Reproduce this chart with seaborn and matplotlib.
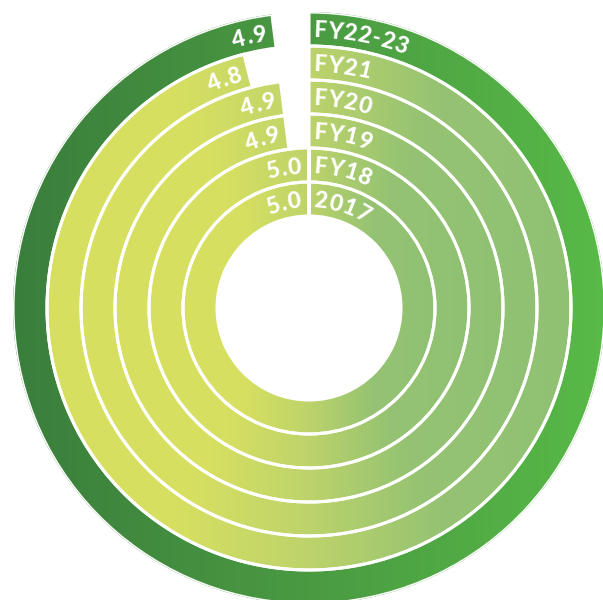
import numpy as np
import pandas as pd
import seaborn as sns
import matplotlib.pyplot as plt
from matplotlib.path import Path

# Data (inner ring first)
years = ["2017", "FY18", "FY19", "FY20", "FY21", "FY22-23"]
scores = [5.0, 5.0, 4.9, 4.9, 4.8, 4.9]
max_score = 5.0

df = pd.DataFrame({"year": years, "score": scores})

sns.set_theme(style="white")
plt.rcParams["font.family"] = ["Lato", "DejaVu Sans"]

# Colour ramps (left -> right)
inner_cmap = sns.blend_palette(["#d8e060", "#d6df61", "#bdd36b", "#95c372", "#90c173"], as_cmap=True)
outer_cmap = sns.blend_palette(["#3a7e3c", "#4a9a42", "#58ba47"], as_cmap=True)

W, H = 603, 600
cx, cy = 309, 292      # centre of the rings, pixels from bottom-left
R = 296                # outer radius in px
hole = 92              # radius of the empty centre
ring = (R - hole) / len(df)

fig = plt.figure(figsize=(W / 100, H / 100), dpi=100)

# background axes in pixel units, holds the gradient images
bg = fig.add_axes([0, 0, 1, 1], zorder=1)

# polar axes in pixel units for radius
ax = fig.add_axes([(cx - R) / W, (cy - R) / H, 2 * R / W, 2 * R / H],
                  projection="polar", zorder=2)
ax.set_facecolor("none")
ax.set_theta_zero_location("N")
ax.set_theta_direction(-1)
ax.set_ylim(0, R)
ax.axis("off")

theta = (df["score"] / max_score * 2 * np.pi).to_numpy()
bottoms = hole + np.arange(len(df)) * ring
bars = ax.bar(theta / 2, ring, width=theta, bottom=bottoms, align="center",
              facecolor="none", edgecolor="white", linewidth=2.2)


def bar_outline(bar, n=400):
    # dense outline of a polar bar in (theta, r) data coords
    t0, w = bar.get_x(), bar.get_width()
    r0, h = bar.get_y(), bar.get_height()
    th = np.linspace(t0, t0 + w, n)
    verts = np.vstack([np.column_stack([th, np.full(n, r0 + h)]),
                       np.column_stack([th[::-1], np.full(n, r0)]),
                       [[th[0], r0 + h]]])
    return Path(verts, closed=True)


# gradient fill, one image per ring clipped to its bar
grad = np.linspace(0, 1, 256).reshape(1, -1)
for i, bar in enumerate(bars):
    ro = bottoms[i] + ring
    cmap = outer_cmap if i == len(df) - 1 else inner_cmap
    img = bg.imshow(grad, cmap=cmap, aspect="auto", interpolation="bilinear",
                    extent=(cx - ro, cx + ro, cy - ro, cy + ro))
    img.set_clip_path(bar_outline(bar), ax.transData)
bg.set_xlim(0, W)
bg.set_ylim(0, H)
bg.axis("off")

# curved labels
renderer = fig.canvas.get_renderer()
fsize = 16.5
font = dict(color="white", fontsize=fsize, fontweight="black")
cap = fsize * 100 / 72 * 0.72


def text_width(s):
    if not s:
        return 0.0
    t = fig.text(0, 0, s, **font)
    w = t.get_window_extent(renderer).width
    t.remove()
    return w


def arc_text(s, r, start, forward=True, track=0.8):
    widths = [text_width(s[:k]) + k * track for k in range(len(s) + 1)]
    span = widths[-1] / r
    t0 = start if forward else start - span
    for k, ch in enumerate(s):
        th = t0 + (widths[k] + widths[k + 1] - track) / 2 / r
        ax.text(th, r, ch, rotation=-np.degrees(th), rotation_mode="anchor",
                ha="center", va="baseline", **font)


for i, row in df.iterrows():
    mid = bottoms[i] + ring / 2
    base = mid - cap / 2
    arc_text(row["year"], base, 4 / base, forward=True)
    arc_text(f"{row['score']:.1f}", base, theta[i] - 7 / base, forward=False)

fig.savefig("out.png", dpi=100)
